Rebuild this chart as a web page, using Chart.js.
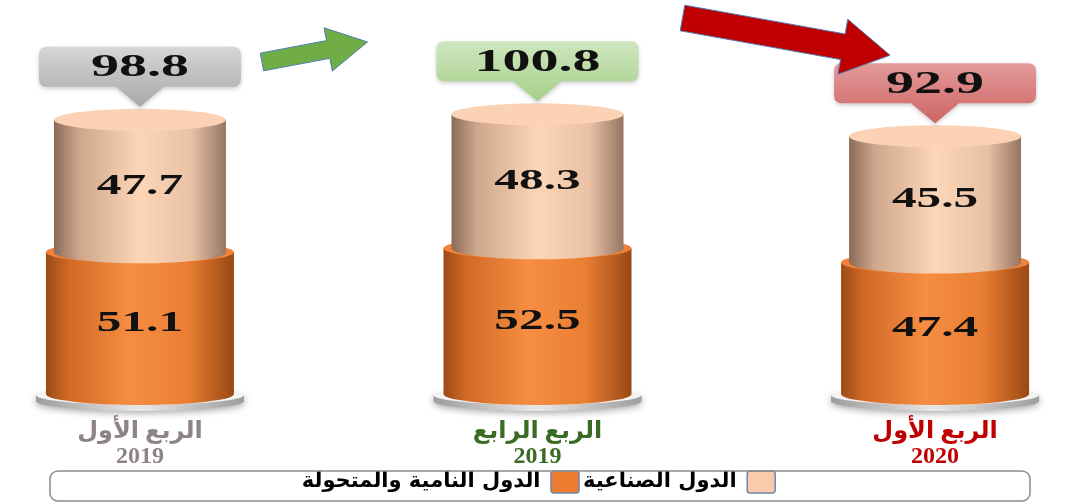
<!DOCTYPE html>
<html>
<head>
<meta charset="utf-8">
<script src="https://cdn.jsdelivr.net/npm/chart.js@4/dist/chart.umd.min.js"></script>
<style>
  html, body { margin: 0; padding: 0; background: #fff; }
  #wrap { width: 1077px; height: 504px; }
</style>
</head>
<body>
<div id="wrap"><canvas id="grafico"></canvas></div>
<script>
// data
const quarterLabels = [['الربع الأول', '2019'], ['الربع الرابع', '2019'], ['الربع الأول', '2020']];
const developing = [51.1, 52.5, 47.4];   // الدول النامية والمتحولة
const industrial = [47.7, 48.3, 45.5];   // الدول الصناعية
const seriesNames = ['الدول النامية والمتحولة', 'الدول الصناعية'];

const labelColors = ['#8e8484', '#3b6b23', '#c00000'];
const calloutColors = [['#d6d6d6', '#a8a8a8'], ['#cfe6bf', '#a5cf89'], ['#e49a9a', '#cd6464']];
const orangeStops = [[0, '#9c4a17'], [0.12, '#d06a25'], [0.45, '#f68d42'], [0.75, '#ea7f33'], [1, '#9a4814']];
const peachStops  = [[0, '#8a6b5a'], [0.15, '#cfa88c'], [0.5, '#fdd6b8'], [0.8, '#e9c2a5'], [1, '#957563']];
const RY = 11;

function stretchedText(ctx, text, x, y, size, color, sx) {
  ctx.save();
  ctx.translate(x, y);
  ctx.scale(sx, 1);
  ctx.font = 'bold ' + size + 'px "Liberation Serif", serif';
  ctx.fillStyle = color;
  ctx.textAlign = 'center';
  ctx.textBaseline = 'middle';
  ctx.fillText(text, 0, 0);
  ctx.restore();
}

function drawPedestal(ctx, b) {
  const rx = b.width / 2 + 10, y = b.base + 1;
  ctx.save();
  ctx.shadowColor = 'rgba(0,0,0,0.35)';
  ctx.shadowBlur = 7;
  ctx.shadowOffsetY = 2;
  const g = ctx.createLinearGradient(b.x - rx, 0, b.x + rx, 0);
  g.addColorStop(0, '#9d9d9d'); g.addColorStop(0.5, '#e8e8e8'); g.addColorStop(1, '#9d9d9d');
  ctx.fillStyle = g;
  ctx.beginPath();
  ctx.moveTo(b.x - rx, y);
  ctx.lineTo(b.x - rx, y + 6);
  ctx.ellipse(b.x, y + 6, rx, 10, 0, Math.PI, 0, true);
  ctx.lineTo(b.x + rx, y);
  ctx.closePath();
  ctx.fill();
  ctx.restore();
  ctx.fillStyle = '#f3f3f3';
  ctx.beginPath();
  ctx.ellipse(b.x, y, rx, 10, 0, 0, Math.PI * 2);
  ctx.fill();
}

function drawCylinder(ctx, b, stops, topColor) {
  const l = b.x - b.width / 2, r = b.x + b.width / 2;
  const g = ctx.createLinearGradient(l, 0, r, 0);
  stops.forEach(s => g.addColorStop(s[0], s[1]));
  ctx.fillStyle = g;
  ctx.beginPath();
  ctx.moveTo(l, b.y);
  ctx.lineTo(l, b.base);
  ctx.ellipse(b.x, b.base, b.width / 2, RY, 0, Math.PI, 0, true);
  ctx.lineTo(r, b.y);
  ctx.closePath();
  ctx.fill();
  ctx.fillStyle = topColor;
  ctx.beginPath();
  ctx.ellipse(b.x, b.y, b.width / 2, RY, 0, 0, Math.PI * 2);
  ctx.fill();
}

function drawCallout(ctx, x, tipY, text, colors) {
  const bw = 202, bh = 40, ph = 20, pw = 24, r = 8;
  const bottom = tipY - ph, top = bottom - bh, l = x - bw / 2, rr = x + bw / 2;
  const g = ctx.createLinearGradient(0, top, 0, tipY);
  g.addColorStop(0, colors[0]); g.addColorStop(1, colors[1]);
  ctx.save();
  ctx.shadowColor = 'rgba(0,0,0,0.2)';
  ctx.shadowBlur = 4;
  ctx.shadowOffsetY = 2;
  ctx.fillStyle = g;
  ctx.beginPath();
  ctx.moveTo(l + r, top);
  ctx.lineTo(rr - r, top);
  ctx.quadraticCurveTo(rr, top, rr, top + r);
  ctx.lineTo(rr, bottom - r);
  ctx.quadraticCurveTo(rr, bottom, rr - r, bottom);
  ctx.lineTo(x + pw, bottom);
  ctx.lineTo(x, tipY);
  ctx.lineTo(x - pw, bottom);
  ctx.lineTo(l + r, bottom);
  ctx.quadraticCurveTo(l, bottom, l, bottom - r);
  ctx.lineTo(l, top + r);
  ctx.quadraticCurveTo(l, top, l + r, top);
  ctx.closePath();
  ctx.fill();
  ctx.restore();
  stretchedText(ctx, text, x, top + bh / 2 + 1, 32, '#111', 1.75);
  return top;
}

function blockArrow(ctx, x1, y1, x2, y2, shaft, head, headLen, color) {
  const len = Math.hypot(x2 - x1, y2 - y1);
  const dx = (x2 - x1) / len, dy = (y2 - y1) / len, nx = -dy, ny = dx;
  const hx = x2 - dx * headLen, hy = y2 - dy * headLen;
  ctx.fillStyle = color;
  ctx.strokeStyle = '#4f7db3';
  ctx.lineWidth = 1;
  ctx.beginPath();
  ctx.moveTo(x1 + nx * shaft, y1 + ny * shaft);
  ctx.lineTo(hx + nx * shaft, hy + ny * shaft);
  ctx.lineTo(hx + nx * head, hy + ny * head);
  ctx.lineTo(x2, y2);
  ctx.lineTo(hx - nx * head, hy - ny * head);
  ctx.lineTo(hx - nx * shaft, hy - ny * shaft);
  ctx.lineTo(x1 - nx * shaft, y1 - ny * shaft);
  ctx.closePath();
  ctx.fill();
  ctx.stroke();
}

const cylinders = {
  id: 'cylinders',
  beforeDraw(chart) {
    const ctx = chart.ctx;
    ctx.save();
    ctx.fillStyle = '#ffffff';
    ctx.fillRect(0, 0, chart.width, chart.height);
    ctx.restore();
  },
  beforeDatasetsDraw(chart) {
    const ctx = chart.ctx;
    const low = chart.getDatasetMeta(0).data, up = chart.getDatasetMeta(1).data;
    ctx.save();
    low.forEach(b => drawPedestal(ctx, b));
    low.forEach(b => drawCylinder(ctx, b, orangeStops, '#f2823a'));
    up.forEach(b => drawCylinder(ctx, b, peachStops, '#fbd3b4'));
    low.forEach((b, i) => stretchedText(ctx, developing[i].toFixed(1), b.x, (b.y + b.base) / 2, 29, '#111', 1.7));
    up.forEach((b, i) => stretchedText(ctx, industrial[i].toFixed(1), b.x, (b.y + b.base) / 2, 29, '#111', 1.7));
    const tops = up.map((b, i) => drawCallout(ctx, b.x, b.y - RY - 2, (developing[i] + industrial[i]).toFixed(1), calloutColors[i]));
    // trend arrows between the callouts
    blockArrow(ctx, low[0].x + 122, 62, low[1].x - 170, 42, 9, 22, 40, '#70ad47');
    const tipY = Math.min(92, tops[2] - 8);
    blockArrow(ctx, low[1].x + 145, Math.max(18, tipY - 48), low[2].x - 45, tipY, 13, 28, 48, '#c00000');
    ctx.restore();
    return false;
  },
  afterDraw(chart) {
    const L = chart.legend, ctx = chart.ctx;
    const l = 50, r = chart.width - 47, t = L.top + 4, bt = L.bottom - 2, rad = 8;
    ctx.save();
    ctx.strokeStyle = '#8c8c8c';
    ctx.lineWidth = 1.5;
    ctx.beginPath();
    ctx.roundRect(l, t, r - l, bt - t, rad);
    ctx.stroke();
    ctx.restore();
  }
};

const grafico = new Chart(document.getElementById('grafico').getContext('2d'), {
  type: 'bar',
  data: {
    datasets: [
      { label: seriesNames[0], data: developing.map((v, i) => ({ x: i, y: v })), backgroundColor: '#ed7d31', borderColor: '#6f86a8', borderWidth: 1.5, barThickness: 188 },
      { label: seriesNames[1], data: industrial.map((v, i) => ({ x: i, y: v })), backgroundColor: '#f8cbad', borderColor: '#6f86a8', borderWidth: 1.5, barThickness: 172 }
    ]
  },
  options: {
    responsive: true, maintainAspectRatio: false, animation: false,
    layout: { padding: { top: 0, bottom: 1, left: 0, right: 0 } },
    plugins: {
      tooltip: { enabled: false },
      legend: {
        position: 'bottom', rtl: true, reverse: true,
        labels: { color: '#000', boxWidth: 28, boxHeight: 22, padding: 4, useBorderRadius: true, borderRadius: 3,
          font: { family: '"DejaVu Sans", sans-serif', size: 21, weight: 'bold' } }
      }
    },
    scales: {
      x: {
        type: 'linear', min: -0.352, max: 2.357, stacked: true, offset: false,
        grid: { display: false, drawTicks: false }, border: { display: false },
        afterBuildTicks: s => { s.ticks = quarterLabels.map((_, i) => ({ value: i })); },
        afterFit: s => { s.height = 73; },
        ticks: {
          autoSkip: false, maxRotation: 0, padding: 25,
          callback: v => quarterLabels[v],
          color: c => labelColors[c.index],
          font: { family: '"Liberation Serif", "DejaVu Sans", serif', size: 24, weight: 'bold', lineHeight: 1.04 }
        }
      },
      y: { display: false, stacked: true, min: 0, max: 142 }
    }
  },
  plugins: [cylinders]
});
</script>
</body>
</html>
